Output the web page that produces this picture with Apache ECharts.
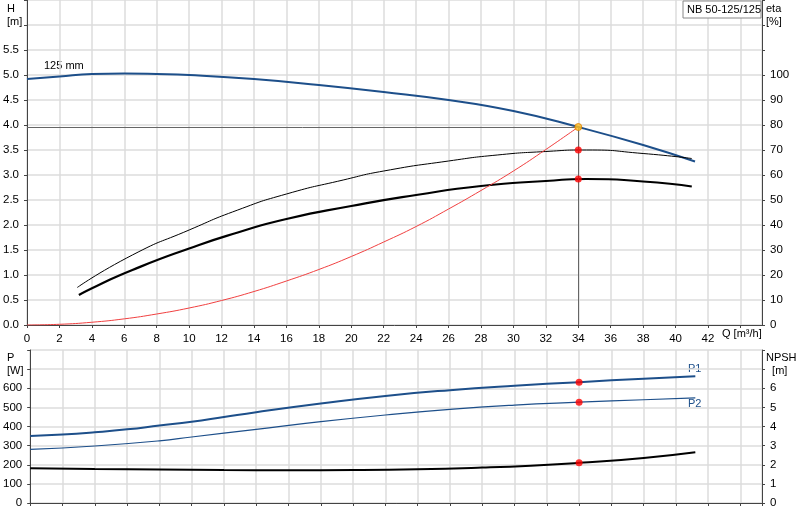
<!DOCTYPE html><html><head><meta charset="utf-8"><script src="https://cdn.jsdelivr.net/npm/echarts@6/dist/echarts.min.js"></script></head><body style="margin:0"><div id="c" style="width:800px;height:520px"></div><script>
const H=[[0,4.92],[2,4.97],[4,5.02],[6,5.03],[8,5.02],[10,5.0],[14,4.92],[18,4.8],[22,4.66],[26,4.5],[30,4.28],[34,3.96],[38,3.6],[41.2,3.27]];
const etaThin=[[3.1,0.75],[6.5,1.4],[10,1.9],[13,2.3],[16,2.62],[19.5,2.9],[22,3.08],[26,3.28],[29,3.4],[32,3.47],[34.5,3.5],[38,3.43],[41,3.33]];
const etaThick=[[3.2,0.6],[4.3,0.78],[6.5,1.1],[10,1.53],[13,1.85],[16,2.12],[20,2.38],[24,2.6],[28,2.78],[32,2.88],[34.5,2.92],[38,2.87],[41,2.77]];
const sys=[[0,0],[2,0.014],[4,0.055],[6,0.123],[8,0.22],[10,0.34],[12,0.49],[14,0.67],[16,0.88],[18,1.11],[20,1.37],[22,1.66],[24,1.97],[26,2.32],[28,2.69],[30,3.08],[32,3.51],[34,3.96]];
const P1=[[0,350],[2,358],[4,370],[6,385],[8,405],[10,425],[12,450],[14,475],[18,520],[22,560],[26,590],[30,613],[34,632],[38,650],[41.2,663]];
const P2=[[0,280],[4,298],[8,325],[10,345],[14,385],[18,425],[22,460],[26,490],[30,512],[34,527],[38,540],[41.2,550]];
const NPSH=[[0,1.82],[4,1.78],[8,1.75],[12,1.72],[16,1.71],[20,1.72],[24,1.76],[28,1.85],[31,1.95],[34,2.1],[38,2.35],[41.2,2.65]];
const duty=34, dutyH=3.96;
const lab={color:'#000',fontSize:11.5,fontFamily:'Arial'};
const ax={axisLine:{show:true,lineStyle:{color:'#444'}},axisTick:{show:true,length:3,lineStyle:{color:'#444'}},axisLabel:lab,splitLine:{show:true,lineStyle:{color:'#ddd',width:1.5}}};
const xa=(g,s)=>Object.assign({},ax,{type:'value',gridIndex:g,min:0,max:45.33,interval:2,axisLabel:Object.assign({},lab,{show:s,showMaxLabel:false,formatter:v=>v>=44?'':v})});
const c=echarts.init(document.getElementById('c'));
const blue='#1d4f8a';
const dot=(col)=>({color:col,borderWidth:0});
c.setOption({animation:false,
grid:[{left:26,right:38,top:0,height:325},{left:26,right:38,top:350,height:153}],
xAxis:[xa(0,true),xa(1,false)],
yAxis:[
Object.assign({},ax,{gridIndex:0,min:0,max:6.5,interval:0.5,axisLabel:Object.assign({},lab,{formatter:v=>v>5.5?'':v.toFixed(1)})}),
Object.assign({},ax,{gridIndex:0,position:'right',min:0,max:130,interval:10,splitLine:{show:false},axisLabel:Object.assign({},lab,{formatter:v=>v>100?'':v})}),
Object.assign({},ax,{gridIndex:1,min:0,max:800,interval:100,axisLabel:Object.assign({},lab,{formatter:v=>v>600?'':v})}),
Object.assign({},ax,{gridIndex:1,position:'right',min:0,max:8,interval:1,splitLine:{show:false},axisLabel:Object.assign({},lab,{formatter:v=>v>6?'':v})})],
series:[
{type:'line',xAxisIndex:0,yAxisIndex:0,data:H,smooth:true,symbol:'none',lineStyle:{color:blue,width:2},
 markLine:{silent:true,symbol:'none',label:{show:false},lineStyle:{color:'#666',width:1,type:'solid'},data:[[{coord:[0,dutyH]},{coord:[duty,dutyH]}],[{coord:[duty,dutyH]},{coord:[duty,0]}]]}},
{type:'line',xAxisIndex:0,yAxisIndex:0,data:etaThin,smooth:0.6,symbol:'none',lineStyle:{color:'#000',width:1}},
{type:'line',xAxisIndex:0,yAxisIndex:0,data:etaThick,smooth:0.6,symbol:'none',lineStyle:{color:'#000',width:2.2}},
{type:'line',xAxisIndex:0,yAxisIndex:0,data:sys,smooth:true,symbol:'none',lineStyle:{color:'#f04040',width:1}},
{type:'scatter',xAxisIndex:0,yAxisIndex:0,symbolSize:7,z:5,data:[{value:[duty,dutyH],itemStyle:{color:'#ffc020',borderColor:'#e08000',borderWidth:1}},{value:[duty,3.5],itemStyle:dot('#f00')},{value:[duty,2.92],itemStyle:dot('#f00')}]},
{type:'line',xAxisIndex:1,yAxisIndex:2,data:P1,smooth:true,symbol:'none',lineStyle:{color:blue,width:2}},
{type:'line',xAxisIndex:1,yAxisIndex:2,data:P2,smooth:true,symbol:'none',lineStyle:{color:blue,width:1.2}},
{type:'line',xAxisIndex:1,yAxisIndex:3,data:NPSH,smooth:true,symbol:'none',lineStyle:{color:'#000',width:2}},
{type:'scatter',xAxisIndex:1,yAxisIndex:2,symbolSize:7,z:5,itemStyle:dot('#f00'),data:[[duty,632],[duty,527]]},
{type:'scatter',xAxisIndex:1,yAxisIndex:3,symbolSize:7,z:5,itemStyle:dot('#f00'),data:[[duty,2.1]]}],
graphic:[
{type:'text',left:7,top:2,style:{text:'H\n[m]',fill:'#000',font:'11px Arial',lineHeight:13}},
{type:'text',left:766,top:2,style:{text:'eta\n[%]',fill:'#000',font:'11px Arial',lineHeight:13}},
{type:'text',left:44,top:60,style:{text:'125 mm',fill:'#000',font:'11px Arial'}},
{type:'rect',z:10,shape:{x:683,y:1,width:78,height:17},style:{fill:'#fff',stroke:'#888'}},
{type:'text',z:11,left:687,top:4,style:{text:'NB 50-125/125',fill:'#000',font:'11px Arial'}},
{type:'text',left:722,top:328,style:{text:'Q [m³/h]',fill:'#000',font:'11px Arial'}},
{type:'text',left:7,top:351,style:{text:'P\n[W]',fill:'#000',font:'11px Arial',lineHeight:13}},
{type:'text',left:766,top:351,style:{text:'NPSH\n  [m]',fill:'#000',font:'11px Arial',lineHeight:13}},
{type:'text',left:688,top:363,style:{text:'P1',fill:blue,font:'11px Arial'}},
{type:'text',left:688,top:398,style:{text:'P2',fill:blue,font:'11px Arial'}}]});
</script></body></html>
